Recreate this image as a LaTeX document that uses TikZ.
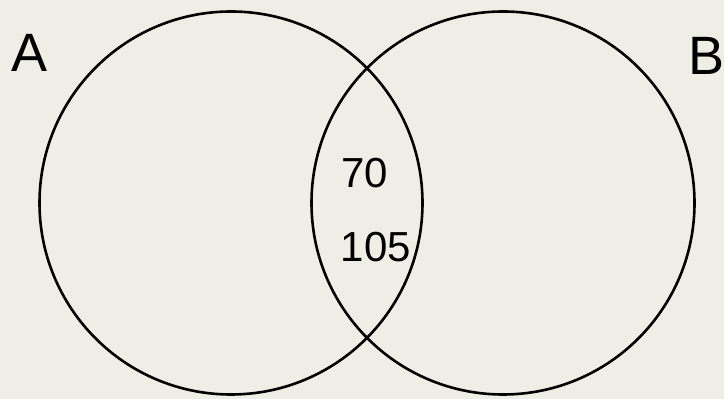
\documentclass[tikz,border=0pt]{standalone}
\usepackage{fontspec}
\setmainfont{Liberation Sans}
\definecolor{paper}{HTML}{EFEEE6}
\begin{document}
\begin{tikzpicture}[x=1pt,y=1pt,
  setcircle/.style={draw=black,line width=2.6pt},
  setlabel/.style={inner sep=0pt,outer sep=0pt,anchor=base west,font=\fontsize{54}{60}\selectfont},
  countlabel/.style={inner sep=0pt,outer sep=0pt,anchor=base,font=\fontsize{42}{48}\selectfont}]
\fill[paper] (0,0) rectangle (724,399);
\useasboundingbox (0,0) rectangle (724,399);
\node[setcircle,circle,minimum size=383pt,inner sep=0pt] (ca) at (231,196) {};
\node[setcircle,circle,minimum size=383pt,inner sep=0pt] (cb) at (503,196) {};
\node[setlabel] (la) at (12,327) {A};
\node[setlabel] (lb) at (688,324) {B};
\node[countlabel] (n1) at (365,211) {70};
\node[countlabel] (n2) at (376,137) {105};
\end{tikzpicture}
\end{document}
